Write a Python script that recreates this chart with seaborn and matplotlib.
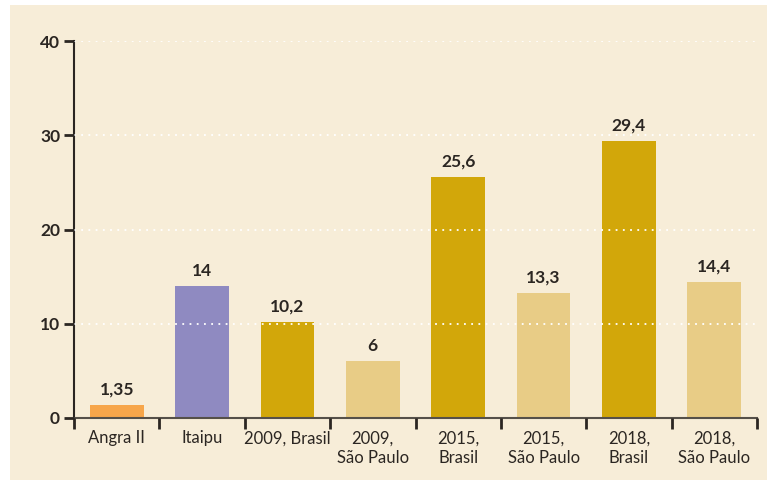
import matplotlib
matplotlib.use("Agg")
import matplotlib.pyplot as plt
import seaborn as sns
import pandas as pd
from matplotlib.patches import Rectangle

# dados
categorias = ["Angra II", "Itaipu", "2009, Brasil", "2009,\nSão Paulo", "2015,\nBrasil",
              "2015,\nSão Paulo", "2018,\nBrasil", "2018,\nSão Paulo"]
valores = [1.35, 14, 10.2, 6, 25.6, 13.3, 29.4, 14.4]
rotulos = ["1,35", "14", "10,2", "6", "25,6", "13,3", "29,4", "14,4"]
cores = ["#F7A64A", "#8F8AC1", "#D2A70A", "#E8CC86", "#D2A70A", "#E8CC86", "#D2A70A", "#E8CC86"]
y_ticks = [0, 10, 20, 30, 40]

fundo = "#F7EDD8"
texto = "#2B2622"

sns.set_style("white")
plt.rcParams["font.family"] = ["Lato", "DejaVu Sans"]

fig = plt.figure(figsize=(7.67, 4.8), dpi=100)
fig.patch.set_facecolor("white")
fig.patches.append(Rectangle((10 / 767, 0), 1, 1 - 5 / 480, transform=fig.transFigure,
                             facecolor=fundo, edgecolor="none", zorder=0))

ax = fig.add_axes([74 / 767, 1 - 418 / 480, (757 - 74) / 767, (418 - 41) / 480])
ax.set_zorder(2)
ax.patch.set_alpha(0)

df = pd.DataFrame({"cat": categorias, "valor": valores})
sns.barplot(data=df, x="cat", y="valor", hue="cat", palette=cores, legend=False,
            width=0.63, saturation=1, linewidth=0, edgecolor="none", ax=ax, zorder=2)

for i, (v, r) in enumerate(zip(valores, rotulos)):
    ax.text(i, v + 0.8, r, ha="center", va="bottom", fontsize=12.5, fontweight="bold", color=texto)

ax.set_ylim(0, 40)
ax.set_xlim(-0.5, 7.5)
ax.set_yticks(y_ticks)
ax.set_yticklabels([str(t) for t in y_ticks], fontsize=12.5, fontweight="bold", color=texto)
ax.tick_params(axis="y", length=7, width=2, color=texto, pad=3, left=True)

ax.set_xticks(range(len(categorias)))
ax.set_xticklabels(categorias, fontsize=12, color=texto, linespacing=1.25)
ax.tick_params(axis="x", which="major", length=0, pad=9)
ax.set_xticks([i - 0.5 for i in range(len(categorias) + 1)], minor=True)
ax.tick_params(axis="x", which="minor", length=8, width=2, color=texto, bottom=True, direction="out")

ax.grid(axis="y", color="white", linestyle=(0, (1, 3)), linewidth=1.3, zorder=3)
ax.set_axisbelow(False)
grid = ax.get_ygridlines()
for l in grid:
    l.set_zorder(3)
grid[0].set_visible(False)

for s in ["top", "right"]:
    ax.spines[s].set_visible(False)
ax.spines["left"].set_color(texto)
ax.spines["left"].set_linewidth(1.5)
ax.spines["bottom"].set_color("#555049")
ax.spines["bottom"].set_linewidth(1.5)
ax.set_xlabel("")
ax.set_ylabel("")

fig.savefig("out.png", dpi=100, facecolor=fig.get_facecolor())
